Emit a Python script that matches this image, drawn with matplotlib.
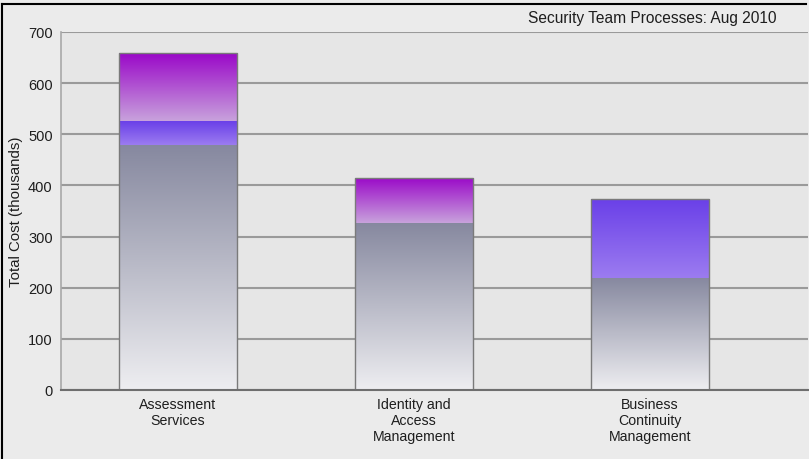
import matplotlib
matplotlib.use("Agg")
import matplotlib.pyplot as plt
from matplotlib.colors import LinearSegmentedColormap
from matplotlib.lines import Line2D
import numpy as np

# 데이터
categories = ["Assessment\nServices", "Identity and\nAccess\nManagement", "Business\nContinuity\nManagement"]
base_cost = [480, 327, 219]
blue_cost = [46, 0, 154]
purple_cost = [132, 88, 0]
yticks = [0, 100, 200, 300, 400, 500, 600, 700]

title = "Security Team Processes: Aug 2010"
ylabel = "Total Cost (thousands)"

# 그라데이션 색상 (위 -> 아래)
grad_gray = LinearSegmentedColormap.from_list("g", ["#86889f", "#eeeef1"])
grad_blue = LinearSegmentedColormap.from_list("b", ["#6a40e8", "#9c7cf0"])
grad_purple = LinearSegmentedColormap.from_list("p", ["#9a08c8", "#c8a2dc"])

plt.rcParams["font.family"] = ["Liberation Sans", "DejaVu Sans"]

W, H = 809, 460
fig = plt.figure(figsize=(W / 100, H / 100), dpi=100, facecolor="#ebebeb")
ax = fig.add_axes([61 / W, (H - 391) / H, (808 - 61) / W, (391 - 33) / H])
ax.set_facecolor("#e6e6e6")

x = np.arange(len(categories))
width = 0.5


def gradient_bar(xs, heights, bottoms, cmap):
    bars = ax.bar(xs, heights, width, bottom=bottoms, color="none",
                  edgecolor="none", zorder=3)
    grad = np.linspace(0, 1, 256).reshape(-1, 1)
    for b in bars:
        if b.get_height() <= 0:
            continue
        x0, y0 = b.get_x(), b.get_y()
        x1, y1 = x0 + b.get_width(), y0 + b.get_height()
        im = ax.imshow(grad, cmap=cmap, aspect="auto", origin="upper",
                       extent=(x0, x1, y0, y1), zorder=2, interpolation="bilinear")
        im.set_clip_path(b)
    return bars


bottom2 = np.array(base_cost)
bottom3 = bottom2 + np.array(blue_cost)
gradient_bar(x, base_cost, 0, grad_gray)
gradient_bar(x, blue_cost, bottom2, grad_blue)
gradient_bar(x, purple_cost, bottom3, grad_purple)

# 막대 외곽선
totals = bottom3 + np.array(purple_cost)
ax.bar(x, totals, width, color="none", edgecolor="#7a7a7a", linewidth=1.0, zorder=4)

ax.set_xlim(-0.4958, 2.669)
ax.set_ylim(0, 700)
ax.set_yticks(yticks)
ax.set_xticks(x)
ax.set_xticklabels(categories, fontsize=10.2, color="#1e1e1e", linespacing=1.18)
ax.tick_params(axis="y", length=0, pad=6, labelsize=10.5, labelcolor="#1e1e1e")
ax.tick_params(axis="x", length=0, pad=5)

ax.grid(axis="y", color="#9a9a9a", linewidth=1.5, zorder=1)
ax.set_axisbelow(True)
for s in ["top", "right"]:
    ax.spines[s].set_visible(False)
ax.spines["left"].set_color("#a8a8a8")
ax.spines["left"].set_linewidth(1.2)
ax.spines["bottom"].set_color("#6e6e6e")
ax.spines["bottom"].set_linewidth(1.5)
ax.spines["bottom"].set_zorder(5)

ax.set_ylabel(ylabel, fontsize=10.8, color="#1e1e1e")
ax.yaxis.set_label_coords((23 - 61) / (808 - 61), 0.5)

fig.text(776 / W, 1 - 19 / H, title, ha="right", va="center", fontsize=11.2, color="#1e1e1e")

# 바깥 테두리 (위, 왼쪽)
fig.add_artist(Line2D([2 / W, 806 / W], [1 - 5 / H, 1 - 5 / H], transform=fig.transFigure, color="black", linewidth=1.5))
fig.add_artist(Line2D([2 / W, 2 / W], [0, 1 - 5 / H], transform=fig.transFigure, color="black", linewidth=1.5))

fig.savefig("out.png", dpi=100, facecolor=fig.get_facecolor())
